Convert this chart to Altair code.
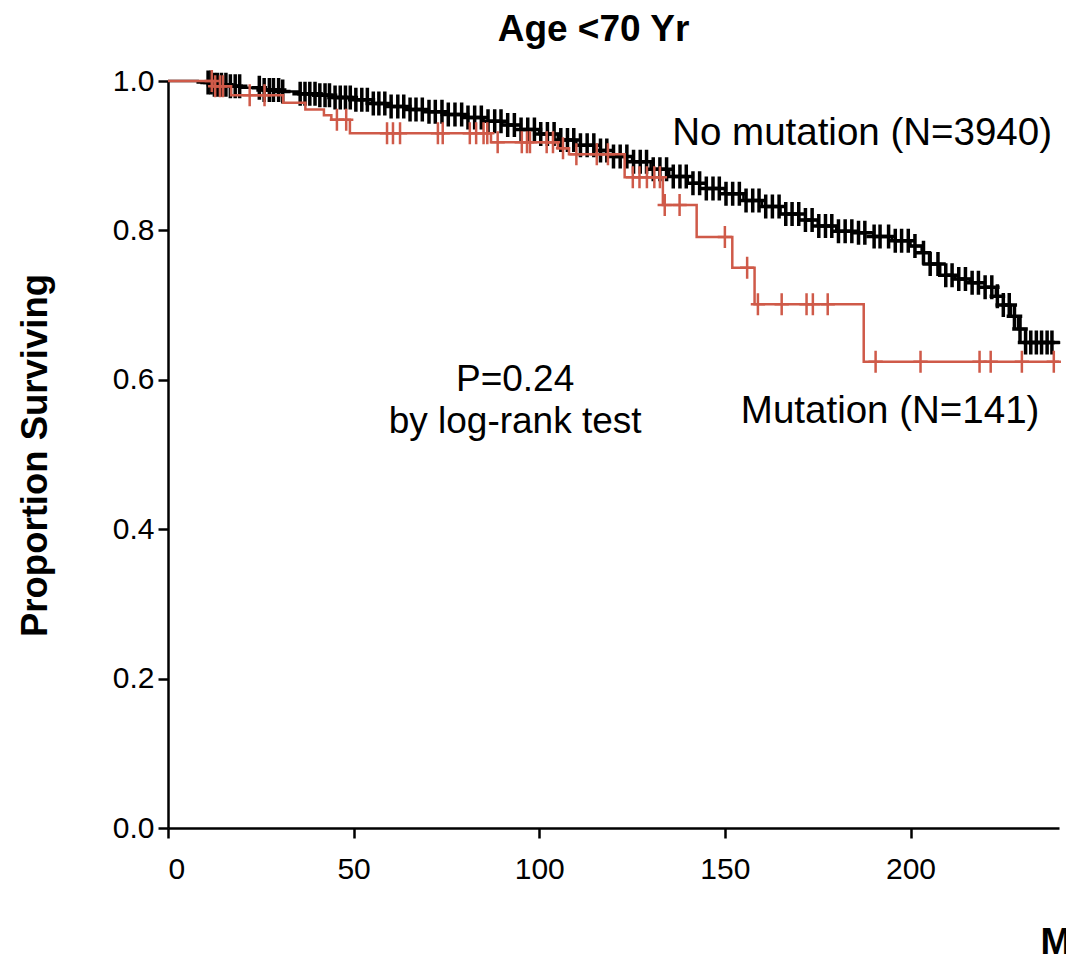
import altair as alt
import pandas as pd

# ---- data ----
black_times = [0, 8, 12, 16, 20, 25, 30, 35, 40, 45, 50, 55, 60, 65, 70, 75, 80, 85, 90, 95,
               100, 105, 110, 115, 120, 125, 130, 135, 140, 145, 150, 155, 160, 165, 170, 175,
               180, 185, 190, 195, 200, 203, 205, 208, 212, 216, 220, 223, 225, 227, 229, 231, 240]
black_surv = [1.000, 0.998, 0.995, 0.993, 0.991, 0.988, 0.986, 0.983, 0.981, 0.978, 0.975, 0.970,
              0.966, 0.962, 0.959, 0.955, 0.951, 0.946, 0.941, 0.935, 0.929, 0.921, 0.914, 0.907,
              0.899, 0.892, 0.882, 0.872, 0.863, 0.856, 0.849, 0.840, 0.832, 0.822, 0.814, 0.806,
              0.799, 0.797, 0.792, 0.786, 0.779, 0.770, 0.755, 0.740, 0.735, 0.730, 0.724, 0.712,
              0.700, 0.685, 0.668, 0.650, 0.648]

red_times = [0, 12, 17, 31, 37, 42, 44, 49, 87, 105, 108, 123, 133.3, 142.4, 152, 158, 187.4, 240]
red_surv = [1.000, 0.993, 0.981, 0.971, 0.962, 0.954, 0.948, 0.930, 0.918, 0.910, 0.902, 0.871,
            0.834, 0.791, 0.750, 0.701, 0.624, 0.624]

black_censor = [10.8, 11.6, 12.5, 13.3, 14.4, 15.6, 16.8, 18.1, 19.3, 24.6, 25.9, 27.3, 28.4, 29.8,
                30.9, 35.6, 36.9, 38.2, 39.6, 40.9, 42.3, 43.5, 45.0, 46.4, 47.8, 49.1, 50.6, 52.2,
                53.7, 55.3, 56.8, 58.4, 60.1, 61.9, 63.5, 65.2, 66.8, 68.5, 70.3, 72.0, 73.8, 75.5,
                77.3, 79.1, 80.8, 82.6, 84.4, 86.2, 88.0, 89.7, 91.5, 93.3, 95.1, 96.9, 98.7, 100.4,
                102.2, 104.0, 105.8, 107.6, 109.3, 111.1, 112.9, 114.7, 116.5, 118.2, 120.0, 121.8,
                123.6, 125.4, 127.2, 128.9, 130.7, 132.5, 134.3, 136.1, 137.9, 139.6, 141.4, 143.2,
                145.0, 146.8, 148.5, 150.3, 152.1, 153.9, 155.7, 157.5, 159.2, 161.0, 162.8, 164.6,
                166.4, 168.1, 169.9, 171.7, 173.5, 175.3, 177.1, 178.8, 180.6, 182.4, 184.2, 186.0,
                187.7, 190.2, 191.8, 194.1, 195.9, 197.6, 199.4, 201.2, 203.5, 205.3, 207.4, 209.5,
                211.2, 213.0, 214.8, 216.6, 218.3, 220.1, 221.9, 223.4, 225.0, 226.6, 228.0, 229.5,
                231.0, 232.4, 233.9, 235.3, 236.8, 238.1]

red_censor = [11.8, 12.7, 14.0, 14.8, 22.0, 26.0, 45.5, 48.0, 59.0, 60.6, 62.5, 72.7, 74.0, 81.3,
              83.0, 85.0, 86.0, 88.8, 95.3, 96.7, 97.5, 102.0, 103.7, 106.4, 110.0, 115.5, 118.5,
              125.2, 127.0, 129.0, 131.0, 132.5, 133.8, 137.8, 150.0, 156.0, 158.9, 165.3, 172.0,
              173.7, 177.7, 190.6, 202.7, 218.6, 221.6, 230.0, 238.6]

note_text = ["No mutation (N=3940)", "Mutation (N=141)"]
note_t = [135.8, 154.3]
note_s = [0.930, 0.558]

p_text = ["P=0.24", "by log-rank test"]
p_t = [93.5, 93.5]
p_s = [0.600, 0.543]

x_ticks = [0, 50, 100, 150, 200]
y_ticks = [0.0, 0.2, 0.4, 0.6, 0.8, 1.0]

FONT = "Liberation Sans"
RED = "#cf5a49"
CROSS = "M-0.65,0L0.65,0M0,-1L0,1"


def curve(times, survs):
    return pd.DataFrame({"t": [float(v) for v in times], "s": [float(v) for v in survs]})


def censor_points(times, survs, ctimes):
    steps = curve(times, survs).sort_values("t")
    c = pd.DataFrame({"t": sorted(float(v) for v in ctimes)})
    return pd.merge_asof(c, steps, on="t", direction="backward")


df_black = curve(black_times, black_surv)
df_red = curve(red_times, red_surv)
df_bc = censor_points(black_times, black_surv, black_censor)
df_rc = censor_points(red_times, red_surv, red_censor)

xscale = alt.Scale(domain=[0, 240], nice=False, zero=False)
yscale = alt.Scale(domain=[0, 1], nice=False)

xaxis = alt.Axis(values=x_ticks, format="d", title="Months", titleFont=FONT, titleFontSize=37,
                 titleFontWeight="bold", titleColor="black", titleX=872, titleY=114,
                 titleAlign="left", titleBaseline="middle", titleAnchor="start",
                 labelPadding=16)
yaxis = alt.Axis(values=y_ticks, format=".1f", title="Proportion Surviving", titleFont=FONT,
                 titleFontSize=36.5, titleFontWeight="bold", titleColor="black", titleX=-133,
                 titleY=374, titleAlign="center", titleBaseline="middle", titleAngle=270,
                 labelPadding=4)

X = alt.X("t:Q", scale=xscale, axis=xaxis)
Y = alt.Y("s:Q", scale=yscale, axis=yaxis)

black_line = alt.Chart(df_black).mark_line(interpolate="step-after", color="black",
                                           strokeWidth=2.5).encode(x=X, y=Y)
black_cross = alt.Chart(df_bc).mark_point(shape=CROSS, size=576, filled=False, color="black",
                                          strokeWidth=3.5, opacity=1).encode(x="t:Q", y="s:Q")
red_line = alt.Chart(df_red).mark_line(interpolate="step-after", color=RED,
                                       strokeWidth=2.5).encode(x="t:Q", y="s:Q")
red_cross = alt.Chart(df_rc).mark_point(shape=CROSS, size=484, filled=False, color=RED,
                                        strokeWidth=2.5, opacity=1).encode(x="t:Q", y="s:Q")

notes = alt.Chart(pd.DataFrame({"label": note_text, "t": note_t, "s": note_s})).mark_text(
    font=FONT, fontSize=38.5, color="black", align="left", baseline="middle"
).encode(x="t:Q", y="s:Q", text="label:N")

ptext = alt.Chart(pd.DataFrame({"label": p_text, "t": p_t, "s": p_s})).mark_text(
    font=FONT, fontSize=37, color="black", align="center", baseline="middle"
).encode(x="t:Q", y="s:Q", text="label:N")

chart = alt.layer(black_line, black_cross, red_line, red_cross, notes, ptext).properties(
    width=891,
    height=747,
    title=alt.Title("Age <70 Yr", font=FONT, fontSize=37, fontWeight="bold", color="black",
                    anchor="middle", dx=-20, dy=-10),
    padding={"left": 168, "top": 81, "right": 7, "bottom": 134},
    autosize=alt.AutoSizeParams(type="none"),
).configure_view(stroke=None).configure_axis(
    grid=False,
    domainColor="black",
    domainWidth=2.5,
    tickColor="black",
    tickWidth=2.5,
    tickSize=10,
    labelFont=FONT,
    labelFontSize=30,
    labelColor="black",
)

chart.save("out.html", embed_options={"renderer": "svg", "actions": False})
